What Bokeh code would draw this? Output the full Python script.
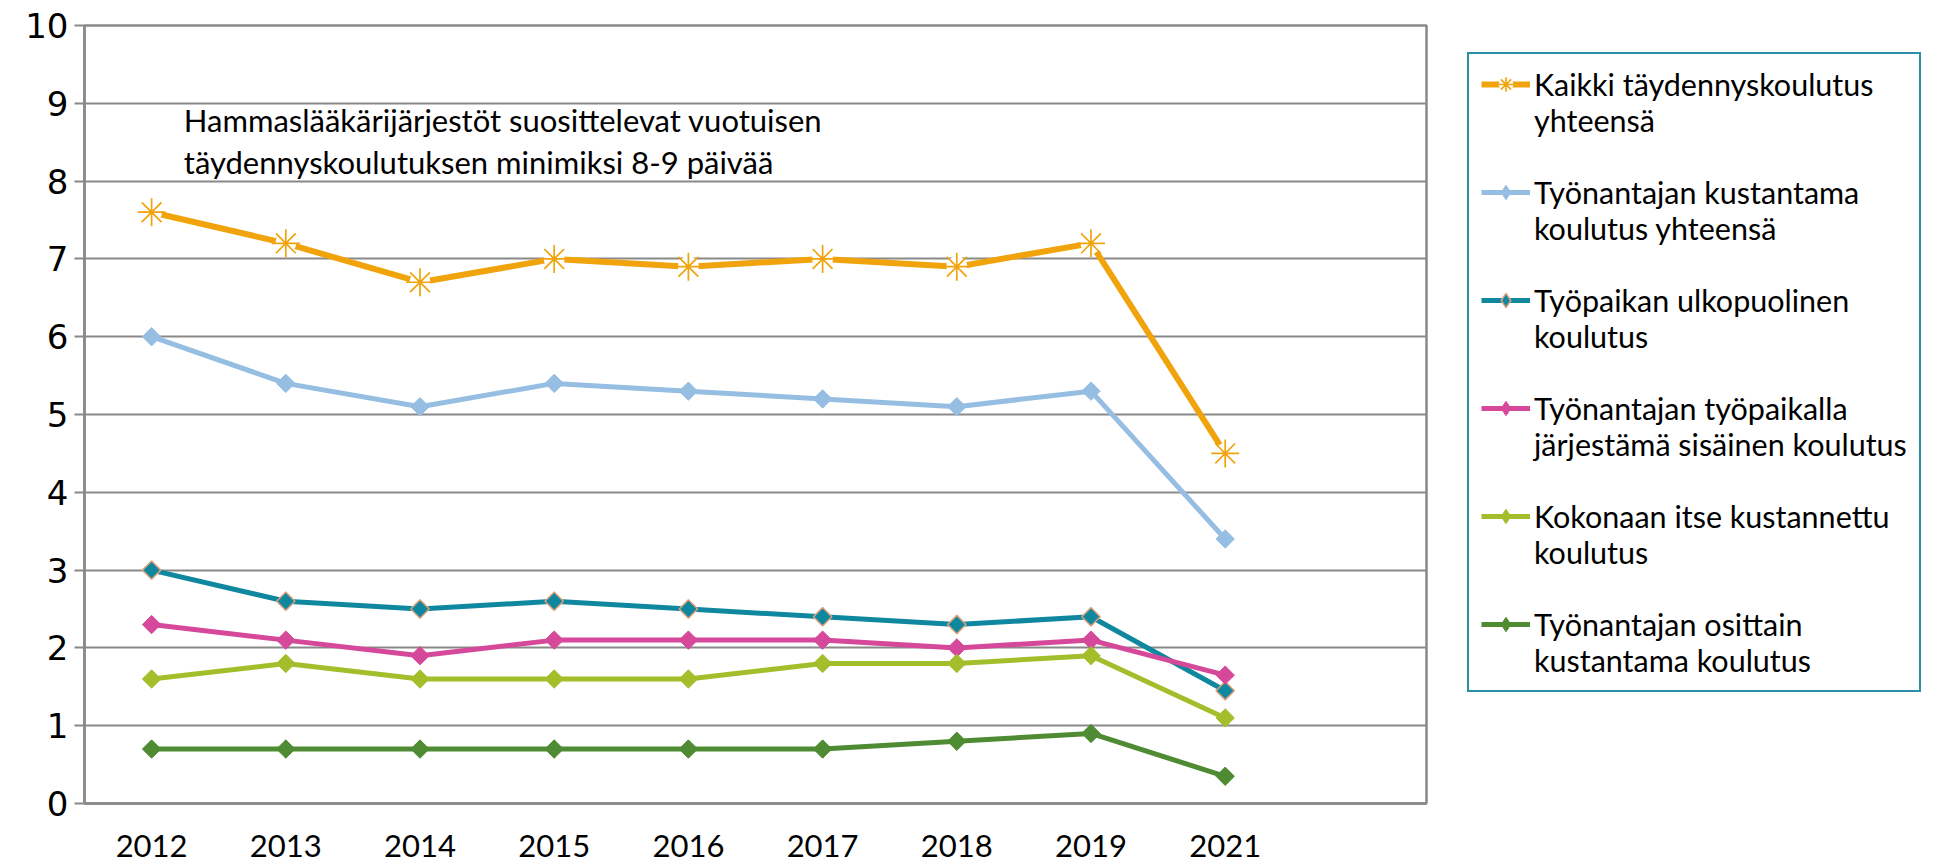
from bokeh.plotting import figure
from bokeh.models import Legend, LegendItem, Label, FixedTicker, Range1d
from bokeh.embed import file_html
from bokeh.resources import INLINE
import math

years = ["2012", "2013", "2014", "2015", "2016", "2017", "2018", "2019", "2021"]
kaikki = [7.6, 7.2, 6.7, 7.0, 6.9, 7.0, 6.9, 7.2, 4.5]
tyonantajan_kustantama = [6.0, 5.4, 5.1, 5.4, 5.3, 5.2, 5.1, 5.3, 3.4]
ulkopuolinen = [3.0, 2.6, 2.5, 2.6, 2.5, 2.4, 2.3, 2.4, 1.45]
sisainen = [2.3, 2.1, 1.9, 2.1, 2.1, 2.1, 2.0, 2.1, 1.65]
itse_kustannettu = [1.6, 1.8, 1.6, 1.6, 1.6, 1.8, 1.8, 1.9, 1.1]
osittain = [0.7, 0.7, 0.7, 0.7, 0.7, 0.7, 0.8, 0.9, 0.35]

labels = [
    ["Kaikki täydennyskoulutus", "yhteensä"],
    ["Työnantajan kustantama", "koulutus yhteensä"],
    ["Työpaikan ulkopuolinen", "koulutus"],
    ["Työnantajan työpaikalla", "järjestämä sisäinen koulutus"],
    ["Kokonaan itse kustannettu", "koulutus"],
    ["Työnantajan osittain", "kustantama koulutus"],
]
note_lines = ["Hammaslääkärijärjestöt suosittelevat vuotuisen",
              "täydennyskoulutuksen minimiksi 8-9 päivää"]

x = list(range(len(years)))
FONT = "Lato"
GRID = "#898989"
NAN = float("nan")

p = figure(frame_width=1342, frame_height=778, output_backend="svg",
           toolbar_location=None,
           x_range=Range1d(-0.5, 9.5), y_range=Range1d(0, 10),
           min_border_left=84, min_border_top=25, min_border_bottom=63,
           min_border_right=0)
p.background_fill_color = "white"
p.border_fill_color = "white"
p.outline_line_color = GRID
p.outline_line_width = 2.5

p.xgrid.visible = False
p.ygrid.ticker = FixedTicker(ticks=list(range(0, 11)))
p.ygrid.grid_line_color = GRID
p.ygrid.grid_line_width = 2

p.yaxis.ticker = FixedTicker(ticks=list(range(0, 11)))
p.yaxis.axis_line_color = GRID
p.yaxis.axis_line_width = 2.5
p.yaxis.major_tick_line_color = GRID
p.yaxis.major_tick_line_width = 2
p.yaxis.major_tick_out = 10
p.yaxis.major_tick_in = 0
p.yaxis.minor_tick_line_color = None
p.yaxis.major_label_text_font = "DejaVu Sans"
p.yaxis.major_label_text_font_size = "34px"
p.yaxis.major_label_text_color = "black"
p.yaxis.major_label_standoff = 6

p.xaxis.ticker = FixedTicker(ticks=x)
p.xaxis.major_label_overrides = {i: y for i, y in enumerate(years)}
p.xaxis.axis_line_color = GRID
p.xaxis.axis_line_width = 2.5
p.xaxis.major_tick_line_color = None
p.xaxis.minor_tick_line_color = None
p.xaxis.major_label_text_font = FONT
p.xaxis.major_label_text_font_size = "31px"
p.xaxis.major_label_text_color = "black"
p.xaxis.major_label_standoff = 25

ORANGE = "#F0A30A"
series = [
    (kaikki, ORANGE, None),
    (tyonantajan_kustantama, "#95BEE2", None),
    (ulkopuolinen, "#0E879F", "#E0A07A"),
    (sisainen, "#D6499A", None),
    (itse_kustannettu, "#A3BE2B", None),
    (osittain, "#4F8B32", None),
]

blank = p.line([NAN], [NAN], line_alpha=0)

items = []
for i, (vals, col, outline) in enumerate(series):
    if i == 0:
        p.line(x, vals, line_color=col, line_width=6)
        p.scatter(x, vals, marker="circle", size=21, fill_color="white", line_color=None)
        p.scatter(x, vals, marker="asterisk", size=28, line_color=col, line_width=1.7)
        lg = [p.line([NAN], [NAN], line_color=col, line_width=6),
              p.scatter([NAN], [NAN], marker="circle", size=20, fill_color="white", line_color=None),
              p.scatter([NAN], [NAN], marker="asterisk", size=27, line_color=col, line_width=1.6)]
    else:
        p.line(x, vals, line_color=col, line_width=5)
        p.scatter(x, vals, marker="square", angle=math.pi / 4, size=13,
                  fill_color=col, line_color=outline if outline else col,
                  line_width=1.5 if outline else 1)
        lg = [p.line([NAN], [NAN], line_color=col, line_width=5),
              p.scatter([NAN], [NAN], marker="diamond", size=18, fill_color=col,
                        line_color=outline if outline else col,
                        line_width=1.5 if outline else 1)]
    items.append(LegendItem(label=labels[i][0], renderers=lg))
    items.append(LegendItem(label=labels[i][1], renderers=[blank]))
    if i < len(series) - 1:
        items.append(LegendItem(label=" ", renderers=[blank]))

for k, t in enumerate(note_lines):
    p.add_layout(Label(x=0.24, y=8.78 - 0.53 * k, text=t, text_font=FONT,
                       text_font_size="31px", text_color="black",
                       text_baseline="middle"))

legend = Legend(items=items, location=(41, 111), orientation="vertical")
legend.border_line_color = "#2A90A6"
legend.border_line_width = 2.5
legend.border_line_alpha = 1
legend.background_fill_alpha = 1
legend.label_text_font = FONT
legend.label_text_font_size = "30.5px"
legend.label_text_color = "black"
legend.label_text_line_height = 1.15
legend.label_height = 36
legend.glyph_width = 49
legend.glyph_height = 36
legend.label_standoff = 4
legend.spacing = 0
legend.padding = 12
legend.margin = 0
legend.inactive_fill_alpha = 0
p.add_layout(legend, "right")

open("out.html", "w").write(file_html(p, INLINE))
